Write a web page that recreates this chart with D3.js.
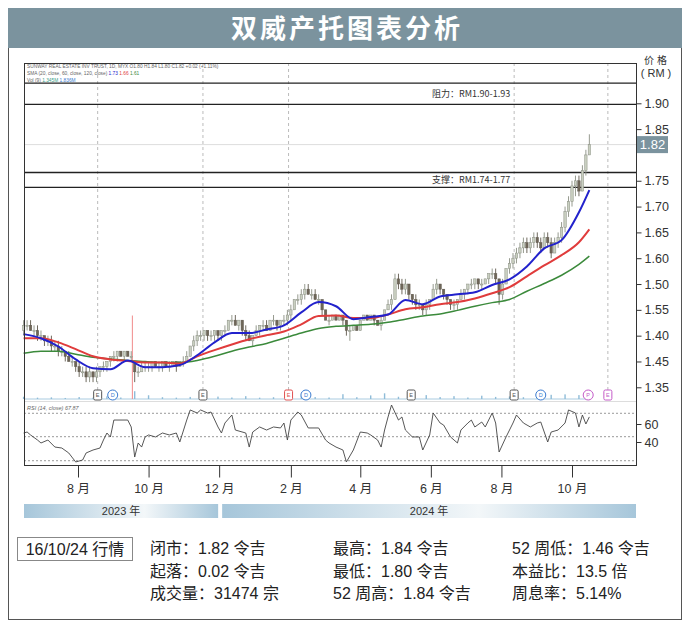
<!DOCTYPE html>
<html>
<head>
<meta charset="utf-8">
<script src="https://cdn.jsdelivr.net/npm/d3@7"></script>
<style>
  body { margin: 0; background: #fff; }
  svg { display: block; font-family: "Liberation Sans", Arial, "Noto Sans CJK SC", sans-serif; }
</style>
</head>
<body>
<svg id="chart" width="690" height="627"></svg>
<script>
// ---- data ----
const chartTitle = '双威产托图表分析';

// one bar every 3 calendar days from 15 Jun 2023 to 16 Oct 2024, [open, high, low, close] in sen
const barStart = '2023-06-15';
const barStepDays = 3;
const barsSen = [
  [146,148,145,147],[147,148,146,147],[147,148,146,146],[146,147,145,146],[146,147,144,145],
  [145,146,144,145],[145,145,143,144],[144,145,143,144],[144,145,142,143],[143,144,142,143],
  [143,144,141,142],[142,143,141,142],[142,142,140,141],[141,142,140,140],[140,141,139,140],
  [140,140,138,139],[139,140,137,138],[138,139,137,138],[138,139,136,137],[137,139,136,138],
  [138,138,136,137],[137,139,136,138],[138,139,137,139],[139,140,138,139],[139,140,138,140],
  [140,141,139,141],[141,142,140,141],[141,142,140,142],[142,142,141,141],[141,142,140,142],
  [142,142,141,141],[141,142,140,141],[140,140,136,138],[138,139,137,138],[138,140,138,139],
  [139,140,138,139],[139,140,138,139],[139,140,138,140],[140,140,139,139],[139,140,138,139],
  [139,140,138,140],[140,140,139,139],[139,140,138,139],[139,140,139,140],[140,140,138,139],
  [139,140,139,140],[140,141,139,140],[140,142,140,141],[141,143,141,143],[143,145,142,144],
  [144,146,143,145],[145,146,144,145],[145,146,144,146],[146,146,144,145],[145,146,144,145],
  [145,146,144,146],[146,146,144,145],[145,146,144,146],[146,147,145,146],[146,148,146,148],
  [148,149,147,148],[148,149,147,147],[147,148,146,148],[148,148,145,146],[146,147,144,145],
  [145,146,144,144],[144,145,143,145],[145,147,145,146],[146,147,145,147],[147,148,146,147],
  [147,148,146,146],[146,148,146,148],[148,149,147,148],[148,148,146,147],[147,148,146,148],
  [148,149,147,148],[148,150,147,149],[149,151,148,150],[150,152,150,152],[152,153,151,152],
  [152,154,151,153],[153,155,152,154],[154,155,153,153],[153,154,152,153],[153,154,152,152],
  [152,153,151,152],[152,152,149,150],[150,150,148,148],[148,149,147,148],[148,149,148,149],
  [149,149,148,148],[148,149,148,149],[149,149,147,148],[148,148,145,146],[146,147,144,146],
  [146,147,146,147],[147,147,146,146],[146,148,146,148],[148,149,148,149],[149,149,148,148],
  [148,149,148,149],[149,149,147,148],[148,148,147,147],[147,149,146,148],[148,150,148,150],
  [150,152,150,151],[151,153,150,152],[152,157,152,156],[156,157,154,155],[155,156,153,154],
  [154,156,153,155],[155,155,152,153],[153,153,151,152],[152,153,150,151],[151,152,150,151],
  [151,151,149,150],[150,152,149,151],[151,152,150,152],[152,155,152,154],[154,156,153,155],
  [155,155,153,154],[154,154,152,153],[153,153,151,152],[152,152,150,151],[151,152,150,151],
  [151,152,150,152],[152,154,152,153],[153,154,152,154],[154,155,153,155],[155,156,154,155],
  [155,156,154,156],[156,156,154,155],[155,156,154,155],[155,156,155,156],[156,157,155,157],
  [157,158,156,157],[157,158,155,156],[156,156,151,153],[153,156,152,155],[155,158,155,158],
  [158,160,157,159],[159,161,158,160],[160,162,159,161],[161,163,160,162],[162,164,161,163],
  [163,164,161,162],[162,164,161,163],[163,165,162,164],[164,165,162,163],[163,164,161,162],
  [162,165,162,164],[164,165,162,163],[163,164,160,161],[161,164,161,163],[163,165,162,164],
  [164,167,163,166],[166,170,165,169],[169,172,168,171],[171,175,170,174],[174,176,172,175],
  [175,176,172,173],[173,178,173,177],[177,181,176,180],[180,184,180,182]
];

// moving averages, sampled at these bar numbers (sen)
const maBars = [0,5,10,15,20,25,30,35,40,45,50,55,60,65,70,75,80,85,90,95,100,105,110,115,120,125,130,135,140,145,150,155,160,163];
const sma20 = [145.3,144.5,142.9,140.4,138.7,138.5,140.2,138.9,138.9,139.3,141.2,143.7,145.5,145.5,146.2,147,149.5,151.5,150.7,148.2,148.6,149.1,151.9,151.1,152.6,153,153.4,154.8,155.9,158.4,161.9,163.5,168.9,173.2];
const sma60 = [144.5,144.5,143.7,142.4,141,140.4,140.1,139.8,139.8,139.6,141,142.2,143.3,144.3,145.1,145.8,147.2,148.8,148.9,148.4,148.4,149.1,150.1,150.5,151.1,151.5,152.2,153.2,154.4,156.5,158.6,160.6,163.1,165.6];
const sma120 = [141.6,142,142,141.4,140.8,140.5,140.2,140,139.8,139.8,140.2,141,142,142.8,143.5,144.5,145.5,146.4,146.8,147,147.2,147.6,148.2,148.8,149.2,149.9,150.7,151.4,152,153.6,155.1,156.7,158.8,160.4];

// volume (thousand units), every 4th bar
const volBarStep = 4;
const volumes = [1500,900,1100,700,1300,900,1800,1000,5200,2500,1200,900,1400,1100,1600,1000,1900,900,1200,1500,2200,1300,1000,3200,1200,2400,3800,1500,1100,2600,1300,1900,1000,2200,1400,1700,1200,2000,2800,3100,2600];

// RSI(14), sampled at these bar numbers
const rsiBars = [0,1,2,4,5,7,9,11,13,15,17,18,20,22,23,24,25,26,30,31,32,33,34,35,36,38,40,42,44,45,47,48,50,51,53,54,56,57,58,60,61,64,65,66,68,70,72,74,75,76,77,79,80,82,85,87,88,90,92,93,95,97,99,100,102,103,104,105,106,108,109,110,112,114,115,117,118,120,121,123,125,126,128,129,130,132,133,135,136,137,139,141,142,144,146,148,149,151,152,154,156,157,159,160,161,162,163];
const rsiValues = [50,51.1,47.8,42.2,38.9,42.2,34.4,33.3,27.8,17.8,20,27.8,31.1,33.3,42.2,50,45.6,64.4,64.4,56.7,23.3,38.9,34.4,45.6,47.8,45.6,50,47.8,50,40,64.4,75.6,72.2,75.6,72.2,73.3,56.7,50,61.1,70,53.3,50,34.4,51.1,56.7,53.3,56.7,55.6,61.1,42.2,64.4,73.3,70,55.6,55.6,42.2,38.9,34.4,31.1,17.8,31.1,51.1,50,47.8,42.2,34.4,53.3,67.8,81.1,64.4,67.8,53.3,45.6,45.6,31.1,47.8,72.2,61.1,58.9,45.6,38.9,53.3,61.1,64.4,56.7,62.2,56.7,72.2,61.1,28.9,45.6,61.1,70,61.1,56.7,61.1,62.2,40,51.1,53.3,61.1,75.6,72.2,56.7,70,60,67.87];
const rsiBands = [71.9, 45.9, 19.2];
const rsiTicks = [60, 40];

// axis ticks, labels as printed on the picture
const priceTicks = [1.90,1.85,1.75,1.70,1.65,1.60,1.55,1.50,1.45,1.40,1.35];
const priceTickLabels = ['1.90','1.85','1.75','1.70','1.65','1.60','1.50','1.55','1.40','1.45','1.35'];
const monthTicks = ['2023-08-01','2023-10-01','2023-12-01','2024-02-01','2024-04-01','2024-06-01','2024-08-01','2024-10-01'];
const monthLabels = ['8 月','10 月','12 月','2 月','4 月','6 月','8 月','10 月'];
const yearLabels = ['2023 年','2024 年'];
const yearSpans = [['2023-06-15','2023-12-01'],['2023-12-01','2024-12-31']];

const lastClose = 1.82;
const resistance = [1.898, 1.939];
const support = [1.737, 1.766];
const resistanceLabel = '阻力：RM1.90-1.93';
const supportLabel = '支撑：RM1.74-1.77';

// event flags along the bottom of the price panel
const eventDates = ['2023-08-18','2023-08-31','2023-11-17','2024-01-30','2024-02-14','2024-05-15','2024-08-12','2024-09-04','2024-10-15','2024-11-01'];
const eventKinds = ['E','D','E','E','D','E','E','D','P','E'];
const eventColors = ['#555','#3b7bd0','#555','#e05050','#3b7bd0','#555','#555','#3b7bd0','#c45ac8','#c45ac8'];
const eventGuides = [true,false,true,true,false,false,true,false,false,true];
const splitDate = '2023-09-17';
const splitTop = 1.489;

const legendLines = [
  'SUNWAY REAL ESTATE INV TRUST, 1D, MYX  O1.80 H1.84 L1.80 C1.82 +0.02 (+1.11%)',
  'SMA (20, close, 60, close, 120, close)',
  'Vol (9)'
];
const legendSma = ['1.73','1.66','1.61'];
const legendVol = ['1.345M','1.836M'];
const rsiLegend = 'RSI (14, close)';
const rsiLast = '67.87';

const statsTag = '16/10/24 行情';
const statsCols = [
  ['闭市：1.82 令吉','起落：0.02 令吉','成交量：31474 宗'],
  ['最高：1.84 令吉','最低：1.80 令吉','52 周高：1.84 令吉'],
  ['52 周低：1.46 令吉','本益比：13.5 倍','周息率：5.14%']
];

// ---- layout ----
const box = { left: 24, right: 636, top: 63, priceBottom: 400, bottom: 465 };
const titleBlue = '#7b939e';
const cjk = '"Noto Sans CJK SC", sans-serif';
const mixed = '"Liberation Sans", "Noto Sans CJK SC", sans-serif';

const parse = d3.timeParse('%Y-%m-%d');
const barDate = (i) => d3.timeDay.offset(parse(barStart), i * barStepDays);

const x = d3.scaleTime()
  .domain([parse('2023-08-01'), parse('2024-10-01')])
  .range([78, 572]);
const y = d3.scaleLinear().domain([1.35, 1.90]).range([387.3, 103.3]);
const yRsi = d3.scaleLinear().domain([40, 60]).range([442, 424]);
const yVol = d3.scaleLinear().domain([0, 6000]).range([399, 390]);

const svg = d3.select('#chart');

// frame and title
svg.append('rect')
  .attr('x', 8.5).attr('y', 8.5).attr('width', 673).attr('height', 611)
  .attr('fill', '#fff').attr('stroke', '#555');
svg.append('rect')
  .attr('x', 8).attr('y', 8).attr('width', 674).attr('height', 40)
  .attr('fill', titleBlue);
svg.append('text')
  .attr('x', 347).attr('y', 38)
  .attr('text-anchor', 'middle')
  .attr('font-family', cjk)
  .attr('font-weight', 700)
  .attr('font-size', 26)
  .attr('letter-spacing', 3)
  .attr('fill', '#fff')
  .text(chartTitle);

// price panel background pieces
const guides = svg.append('g');
eventDates.forEach((d, i) => {
  if (!eventGuides[i]) return;
  guides.append('line')
    .attr('x1', x(parse(d))).attr('x2', x(parse(d)))
    .attr('y1', box.top).attr('y2', 390)
    .attr('stroke', '#bbb')
    .attr('stroke-dasharray', '3,3');
});

svg.append('line')
  .attr('x1', box.left).attr('x2', box.right)
  .attr('y1', y(lastClose)).attr('y2', y(lastClose))
  .attr('stroke', '#ddd');

[resistance, support].forEach((band) => {
  band.forEach((v) => {
    svg.append('line')
      .attr('x1', box.left).attr('x2', box.right)
      .attr('y1', y(v)).attr('y2', y(v))
      .attr('stroke', '#222')
      .attr('stroke-width', 1.3);
  });
});
svg.append('text')
  .attr('x', 432).attr('y', (y(resistance[0]) + y(resistance[1])) / 2)
  .attr('dominant-baseline', 'central')
  .attr('font-family', cjk).attr('font-size', 9).attr('fill', '#333')
  .text(resistanceLabel);
svg.append('text')
  .attr('x', 432).attr('y', (y(support[0]) + y(support[1])) / 2)
  .attr('dominant-baseline', 'central')
  .attr('font-family', cjk).attr('font-size', 9).attr('fill', '#333')
  .text(supportLabel);

// volume
svg.append('line')
  .attr('x1', box.left).attr('x2', 590)
  .attr('y1', yVol(0)).attr('y2', yVol(0))
  .attr('stroke', '#a9cbe0');
svg.append('g').selectAll('rect')
  .data(volumes)
  .join('rect')
  .attr('x', (d, i) => x(barDate(i * volBarStep)) - 0.7)
  .attr('y', (d) => yVol(d))
  .attr('width', 1.4)
  .attr('height', (d) => yVol(0) - yVol(d))
  .attr('fill', '#8fbcd8');

svg.append('line')
  .attr('x1', x(parse(splitDate))).attr('x2', x(parse(splitDate)))
  .attr('y1', y(splitTop)).attr('y2', box.priceBottom - 1)
  .attr('stroke', '#f08a8a');

// candles
const candles = svg.append('g');
barsSen.forEach((b, i) => {
  const [o, h, l, c] = b.map((v) => v / 100);
  const cx = x(barDate(i));
  const up = c >= o;
  candles.append('line')
    .attr('x1', cx).attr('x2', cx)
    .attr('y1', y(h)).attr('y2', y(l))
    .attr('stroke', up ? '#8a8f82' : '#5f584c')
    .attr('stroke-width', 0.9);
  candles.append('rect')
    .attr('x', cx - 1.2)
    .attr('y', y(Math.max(o, c)))
    .attr('width', 2.4)
    .attr('height', Math.max(1, Math.abs(y(o) - y(c))))
    .attr('fill', up ? '#c9cfc1' : '#6e6658')
    .attr('stroke', up ? '#8a8f82' : '#5f584c')
    .attr('stroke-width', 0.5);
});

// moving averages
const maLine = d3.line()
  .x((d) => x(barDate(d[0])))
  .y((d) => y(d[1] / 100))
  .curve(d3.curveMonotoneX);
[[sma120, '#3b8a3b', 1.5], [sma60, '#e03c3c', 2], [sma20, '#2222cc', 2]].forEach(([vals, color, w]) => {
  svg.append('path')
    .attr('d', maLine(maBars.map((b, i) => [b, vals[i]])))
    .attr('fill', 'none')
    .attr('stroke', color)
    .attr('stroke-width', w);
});

// event flags
eventDates.forEach((d, i) => {
  const ex = x(parse(d));
  const g = svg.append('g').attr('transform', `translate(${ex},395)`);
  if (eventKinds[i] === 'E') {
    g.append('rect')
      .attr('x', -4).attr('y', -5).attr('width', 8).attr('height', 10).attr('rx', 1.5)
      .attr('fill', '#fff').attr('stroke', eventColors[i]);
  } else {
    g.append('circle')
      .attr('r', 5)
      .attr('fill', '#fff').attr('stroke', eventColors[i]);
  }
  g.append('text')
    .attr('text-anchor', 'middle').attr('dominant-baseline', 'central')
    .attr('font-size', 5.5).attr('fill', eventColors[i])
    .text(eventKinds[i]);
});

// legend inside the chart
const legend = svg.append('g').attr('font-size', 4.8).attr('fill', '#666');
legend.append('text').attr('x', 27).attr('y', 68).text(legendLines[0]);
const smaLegend = legend.append('text').attr('x', 27).attr('y', 75).text(legendLines[1] + '  ');
['#2222cc', '#e03c3c', '#3b8a3b'].forEach((c, i) => {
  smaLegend.append('tspan').attr('fill', c).text(legendSma[i] + '  ');
});
const volLegend = legend.append('text').attr('x', 27).attr('y', 82).text(legendLines[2] + '  ');
['#3aa08a', '#3b7bd0'].forEach((c, i) => {
  volLegend.append('tspan').attr('fill', c).text(legendVol[i] + '  ');
});

// RSI panel
svg.append('line')
  .attr('x1', box.left).attr('x2', box.right)
  .attr('y1', box.priceBottom + 1.5).attr('y2', box.priceBottom + 1.5)
  .attr('stroke', '#ddd');
rsiBands.forEach((v) => {
  svg.append('line')
    .attr('x1', box.left).attr('x2', box.right)
    .attr('y1', yRsi(v)).attr('y2', yRsi(v))
    .attr('stroke', '#999')
    .attr('stroke-dasharray', '2,2');
});
svg.append('path')
  .attr('d', d3.line()
    .x((d) => x(barDate(d[0])))
    .y((d) => yRsi(d[1]))(rsiBars.map((b, i) => [b, rsiValues[i]])))
  .attr('fill', 'none')
  .attr('stroke', '#444')
  .attr('stroke-width', 0.9);
const rsiText = svg.append('text')
  .attr('x', 27).attr('y', 410)
  .attr('font-size', 5.5).attr('font-style', 'italic').attr('fill', '#666')
  .text(rsiLegend + '  ');
rsiText.append('tspan').text(rsiLast);

// chart box
svg.append('rect')
  .attr('x', box.left + 0.5).attr('y', box.top + 0.5)
  .attr('width', box.right - box.left).attr('height', box.bottom - box.top)
  .attr('fill', 'none').attr('stroke', '#333');

// right axes
const priceAxis = svg.append('g')
  .attr('transform', `translate(${box.right + 0.5},0)`)
  .call(d3.axisRight(y)
    .tickValues(priceTicks)
    .tickFormat((d, i) => priceTickLabels[i])
    .tickSize(5)
    .tickPadding(3));
priceAxis.select('.domain').remove();
priceAxis.selectAll('text').attr('font-size', 12.5).attr('fill', '#333')
  .attr('font-family', '"Liberation Sans", Arial, sans-serif');
priceAxis.selectAll('line').attr('stroke', '#333');

const rsiAxis = svg.append('g')
  .attr('transform', `translate(${box.right + 0.5},0)`)
  .call(d3.axisRight(yRsi).tickValues(rsiTicks).tickSize(5).tickPadding(3));
rsiAxis.select('.domain').remove();
rsiAxis.selectAll('text').attr('font-size', 12.5).attr('fill', '#333')
  .attr('font-family', '"Liberation Sans", Arial, sans-serif');
rsiAxis.selectAll('line').attr('stroke', '#333');

// last price badge
svg.append('rect')
  .attr('x', box.right + 1).attr('y', y(lastClose) - 8.5)
  .attr('width', 31).attr('height', 17)
  .attr('fill', titleBlue);
svg.append('text')
  .attr('x', box.right + 16.5).attr('y', y(lastClose))
  .attr('text-anchor', 'middle').attr('dominant-baseline', 'central')
  .attr('font-size', 13).attr('fill', '#fff')
  .text(lastClose.toFixed(2));

svg.append('text')
  .attr('x', 657).attr('y', 64)
  .attr('text-anchor', 'middle')
  .attr('font-family', cjk).attr('font-size', 10).attr('letter-spacing', 3).attr('fill', '#333')
  .text('价格');
svg.append('text')
  .attr('x', 656).attr('y', 77)
  .attr('text-anchor', 'middle')
  .attr('font-size', 11).attr('fill', '#333')
  .text('( RM )');

// time axis
const timeAxis = svg.append('g')
  .attr('transform', `translate(0,${box.bottom + 0.5})`)
  .call(d3.axisBottom(x)
    .tickValues(monthTicks.map(parse))
    .tickFormat((d, i) => monthLabels[i])
    .tickSize(12)
    .tickPadding(7));
timeAxis.select('.domain').remove();
timeAxis.selectAll('line').attr('stroke', '#333');
timeAxis.selectAll('text').attr('font-size', 12.5).attr('fill', '#333')
  .attr('font-family', mixed);

// year strips
const grad = svg.append('defs').append('linearGradient').attr('id', 'yearGrad');
grad.append('stop').attr('offset', '0%').attr('stop-color', '#a6c6da');
grad.append('stop').attr('offset', '62%').attr('stop-color', '#f3f7f9');
grad.append('stop').attr('offset', '100%').attr('stop-color', '#a6c6da');
yearSpans.forEach(([a, b], i) => {
  const x0 = Math.max(box.left, x(parse(a)) + (i ? 3 : 0));
  const x1 = Math.min(box.right, x(parse(b)) - (i ? 0 : 1));
  svg.append('rect')
    .attr('x', x0).attr('y', 504).attr('width', x1 - x0).attr('height', 14)
    .attr('fill', 'url(#yearGrad)');
  svg.append('text')
    .attr('x', (x0 + x1) / 2).attr('y', 511)
    .attr('text-anchor', 'middle').attr('dominant-baseline', 'central')
    .attr('font-family', mixed)
    .attr('font-size', 11).attr('fill', '#333')
    .text(yearLabels[i]);
});

// stats block
svg.append('rect')
  .attr('x', 17.5).attr('y', 537.5).attr('width', 115).attr('height', 23)
  .attr('fill', '#fff').attr('stroke', '#888');
svg.append('text')
  .attr('x', 75).attr('y', 555)
  .attr('text-anchor', 'middle')
  .attr('font-family', mixed)
  .attr('font-size', 16).attr('fill', '#222')
  .text(statsTag);
const colX = [150, 333, 512];
const rowY = [554, 577, 599];
statsCols.forEach((col, ci) => {
  col.forEach((t, ri) => {
    svg.append('text')
      .attr('x', colX[ci]).attr('y', rowY[ri])
      .attr('font-family', mixed)
      .attr('font-size', 16).attr('fill', '#222')
      .text(t);
  });
});
</script>
</body>
</html>
